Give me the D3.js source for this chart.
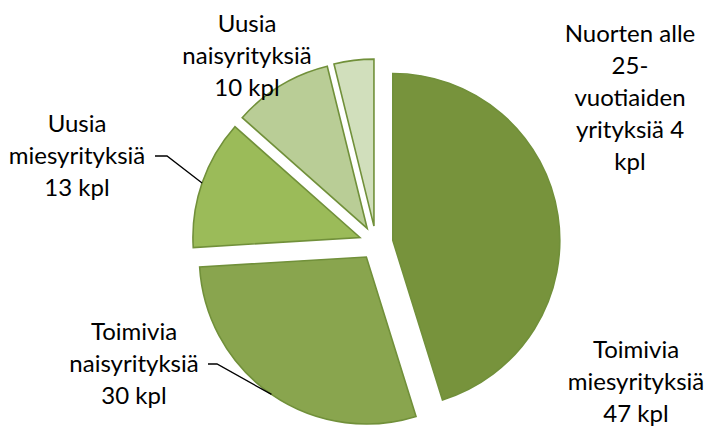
<!DOCTYPE html>
<html>
<head>
<meta charset="utf-8">
<script src="https://cdn.jsdelivr.net/npm/d3@7"></script>
<style>
  body { margin: 0; background: #fff; }
  svg { display: block; font-family: Lato, "Open Sans", sans-serif; }
</style>
</head>
<body>
<div id="chart"></div>
<script>
// data
const categories = [
  "Toimivia miesyrityksiä",
  "Toimivia naisyrityksiä",
  "Uusia miesyrityksiä",
  "Uusia naisyrityksiä",
  "Nuorten alle 25-vuotiaiden yrityksiä"
];
const values = [47, 30, 13, 10, 4];
const labelLines = [
  ["Toimivia", "miesyrityksiä", "47 kpl"],
  ["Toimivia", "naisyrityksiä", "30 kpl"],
  ["Uusia", "miesyrityksiä", "13 kpl"],
  ["Uusia", "naisyrityksiä", "10 kpl"],
  ["Nuorten alle", "25-", "vuotiaiden", "yrityksiä 4", "kpl"]
];
const colors = ["#77933c", "#89a54e", "#9bbb59", "#b9cd96", "#d1dfbc"];

// layout
const width = 704, height = 427;
const cx = 376, cy = 243, radius = 167, explode = 17;
const lineH = 32;
// label block: centre x, first baseline y, leader (elbow) or null
const labelLayout = [
  { x: 636, y: 358, leader: null },
  { x: 134, y: 340, leader: [208, 217] },
  { x: 77, y: 132, leader: [155, 167] },
  { x: 247, y: 32, leader: null },
  { x: 630, y: 42, leader: null }
];

const svg = d3.select("#chart").append("svg")
  .attr("width", width)
  .attr("height", height);

const pie = d3.pie().sort(null).value(d => d)
  .startAngle(0).endAngle(2 * Math.PI);
const arcs = pie(values);

const arc = d3.arc().innerRadius(0).outerRadius(radius);

const offset = d => {
  const a = (d.startAngle + d.endAngle) / 2;
  return [cx + explode * Math.sin(a), cy - explode * Math.cos(a)];
};

svg.selectAll("path.slice")
  .data(arcs)
  .enter()
  .append("path")
  .attr("class", "slice")
  .attr("transform", d => `translate(${offset(d)})`)
  .attr("d", arc)
  .attr("fill", (d, i) => colors[i])
  .attr("stroke", "#71903a")
  .attr("stroke-width", 1.6)
  .attr("stroke-linejoin", "miter");

// leader lines
arcs.forEach((d, i) => {
  const lay = labelLayout[i];
  if (!lay.leader) return;
  const a = (d.startAngle + d.endAngle) / 2;
  const [ox, oy] = offset(d);
  const ex = ox + radius * Math.sin(a), ey = oy - radius * Math.cos(a);
  const ly = lay.y + lineH - 8;
  svg.append("polyline")
    .attr("points", `${lay.leader[0]},${ly} ${lay.leader[1]},${ly} ${ex},${ey}`)
    .attr("fill", "none")
    .attr("stroke", "#000")
    .attr("stroke-width", 1.3);
});

// labels
const labels = svg.selectAll("text.lbl")
  .data(arcs)
  .enter()
  .append("text")
  .attr("class", "lbl")
  .attr("text-anchor", "middle")
  .attr("font-size", 24)
  .attr("fill", "#000");

labels.each(function(d, i) {
  const lay = labelLayout[i];
  d3.select(this).selectAll("tspan")
    .data(labelLines[i])
    .enter()
    .append("tspan")
    .attr("x", lay.x)
    .attr("y", (t, j) => lay.y + j * lineH)
    .text(t => t);
});
</script>
</body>
</html>
